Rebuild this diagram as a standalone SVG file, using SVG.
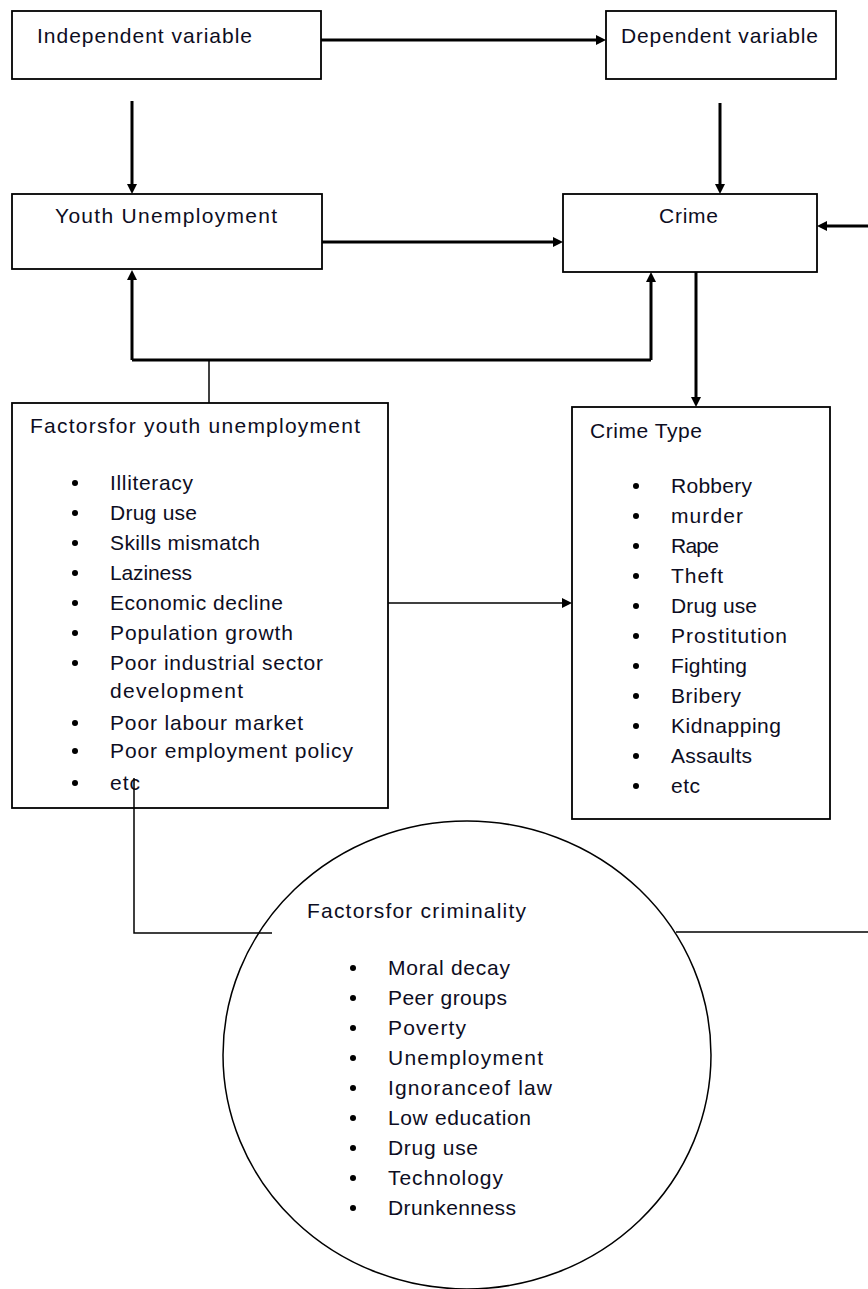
<svg xmlns="http://www.w3.org/2000/svg" width="868" height="1289" viewBox="0 0 868 1289">
<defs>
<style>
.box{fill:#fff;stroke:#000;stroke-width:1.8}
.t{font-family:"Liberation Sans",Arial,sans-serif;font-size:21px;fill:#0d0d22}
.thick{fill:none;stroke:#000;stroke-width:3}
.thin{fill:none;stroke:#000;stroke-width:1.5}
.arr{marker-end:url(#ah)}
.b{fill:#000}
</style>
<marker id="ah" viewBox="0 0 10 10" refX="2" refY="5" markerWidth="10" markerHeight="10" markerUnits="userSpaceOnUse" orient="auto"><path d="M0,0 L10,5 L0,10 z" fill="#000"/></marker>
</defs>
<rect width="868" height="1289" fill="#fff"/>

<g id="independent">
<rect class="box" x="12" y="11" width="309" height="68"/>
<text class="t" x="37" y="43" textLength="215" lengthAdjust="spacing">Independent variable</text>
</g>

<g id="dependent">
<rect class="box" x="606" y="11" width="230" height="68"/>
<text class="t" x="621" y="43" textLength="197" lengthAdjust="spacing">Dependent variable</text>
</g>

<g id="youth">
<rect class="box" x="12" y="194" width="310" height="75"/>
<text class="t" x="55" y="223" textLength="222" lengthAdjust="spacing">Youth Unemployment</text>
</g>

<g id="crime">
<rect class="box" x="563" y="194" width="254" height="78"/>
<text class="t" x="659" y="223" textLength="59" lengthAdjust="spacing">Crime</text>
</g>

<g id="factors-youth">
<rect class="box" x="12" y="403" width="376" height="405"/>
<text class="t" x="30" y="433" textLength="330" lengthAdjust="spacing">Factorsfor youth unemployment</text>
<circle class="b" cx="75" cy="483" r="3"/><text class="t" x="110" y="490" textLength="83" lengthAdjust="spacing">Illiteracy</text>
<circle class="b" cx="75" cy="513" r="3"/><text class="t" x="110" y="520" textLength="87" lengthAdjust="spacing">Drug use</text>
<circle class="b" cx="75" cy="543" r="3"/><text class="t" x="110" y="550" textLength="150" lengthAdjust="spacing">Skills mismatch</text>
<circle class="b" cx="75" cy="573" r="3"/><text class="t" x="110" y="580" textLength="82" lengthAdjust="spacing">Laziness</text>
<circle class="b" cx="75" cy="603" r="3"/><text class="t" x="110" y="610" textLength="173" lengthAdjust="spacing">Economic decline</text>
<circle class="b" cx="75" cy="633" r="3"/><text class="t" x="110" y="640" textLength="183" lengthAdjust="spacing">Population growth</text>
<circle class="b" cx="75" cy="663" r="3"/><text class="t" x="110" y="670" textLength="213" lengthAdjust="spacing">Poor industrial sector</text>
<text class="t" x="110" y="698" textLength="133" lengthAdjust="spacing">development</text>
<circle class="b" cx="75" cy="723" r="3"/><text class="t" x="110" y="730" textLength="193" lengthAdjust="spacing">Poor labour market</text>
<circle class="b" cx="75" cy="751" r="3"/><text class="t" x="110" y="758" textLength="243" lengthAdjust="spacing">Poor employment policy</text>
<circle class="b" cx="75" cy="783" r="3"/><text class="t" x="110" y="790" textLength="30" lengthAdjust="spacing">etc</text>
</g>

<g id="crime-type">
<rect class="box" x="572" y="407" width="258" height="412"/>
<text class="t" x="590" y="438" textLength="112" lengthAdjust="spacing">Crime Type</text>
<circle class="b" cx="636" cy="486" r="3"/><text class="t" x="671" y="493" textLength="81" lengthAdjust="spacing">Robbery</text>
<circle class="b" cx="636" cy="516" r="3"/><text class="t" x="671" y="523" textLength="72" lengthAdjust="spacing">murder</text>
<circle class="b" cx="636" cy="546" r="3"/><text class="t" x="671" y="553" textLength="48" lengthAdjust="spacing">Rape</text>
<circle class="b" cx="636" cy="576" r="3"/><text class="t" x="671" y="583" textLength="52" lengthAdjust="spacing">Theft</text>
<circle class="b" cx="636" cy="606" r="3"/><text class="t" x="671" y="613" textLength="86" lengthAdjust="spacing">Drug use</text>
<circle class="b" cx="636" cy="636" r="3"/><text class="t" x="671" y="643" textLength="116" lengthAdjust="spacing">Prostitution</text>
<circle class="b" cx="636" cy="666" r="3"/><text class="t" x="671" y="673" textLength="76" lengthAdjust="spacing">Fighting</text>
<circle class="b" cx="636" cy="696" r="3"/><text class="t" x="671" y="703" textLength="70" lengthAdjust="spacing">Bribery</text>
<circle class="b" cx="636" cy="726" r="3"/><text class="t" x="671" y="733" textLength="110" lengthAdjust="spacing">Kidnapping</text>
<circle class="b" cx="636" cy="756" r="3"/><text class="t" x="671" y="763" textLength="81" lengthAdjust="spacing">Assaults</text>
<circle class="b" cx="636" cy="786" r="3"/><text class="t" x="671" y="793" textLength="29" lengthAdjust="spacing">etc</text>
</g>

<g id="factors-criminality">
<ellipse class="thin" cx="467" cy="1055" rx="244" ry="234" fill="#fff"/>
<text class="t" x="307" y="918" textLength="219" lengthAdjust="spacing">Factorsfor criminality</text>
<circle class="b" cx="353" cy="968" r="3"/><text class="t" x="388" y="975" textLength="122" lengthAdjust="spacing">Moral decay</text>
<circle class="b" cx="353" cy="998" r="3"/><text class="t" x="388" y="1005" textLength="119" lengthAdjust="spacing">Peer groups</text>
<circle class="b" cx="353" cy="1028" r="3"/><text class="t" x="388" y="1035" textLength="78" lengthAdjust="spacing">Poverty</text>
<circle class="b" cx="353" cy="1058" r="3"/><text class="t" x="388" y="1065" textLength="155" lengthAdjust="spacing">Unemployment</text>
<circle class="b" cx="353" cy="1088" r="3"/><text class="t" x="388" y="1095" textLength="164" lengthAdjust="spacing">Ignoranceof law</text>
<circle class="b" cx="353" cy="1118" r="3"/><text class="t" x="388" y="1125" textLength="143" lengthAdjust="spacing">Low education</text>
<circle class="b" cx="353" cy="1148" r="3"/><text class="t" x="388" y="1155" textLength="90" lengthAdjust="spacing">Drug use</text>
<circle class="b" cx="353" cy="1178" r="3"/><text class="t" x="388" y="1185" textLength="115" lengthAdjust="spacing">Technology</text>
<circle class="b" cx="353" cy="1208" r="3"/><text class="t" x="388" y="1215" textLength="128" lengthAdjust="spacing">Drunkenness</text>
</g>

<g id="connectors">
<path class="thick arr" d="M321,40 H598"/>
<path class="thick arr" d="M132,101 V186"/>
<path class="thick arr" d="M720,103 V186"/>
<path class="thick arr" d="M322,242 H555"/>
<path class="thick arr" d="M868,226 H825"/>
<path class="thin" d="M209,403 V360"/>
<path class="thick" d="M132,360 H651"/>
<path class="thick arr" d="M132,360 V278"/>
<path class="thick arr" d="M651,360 V280"/>
<path class="thick arr" d="M696,272 V399"/>
<path class="thin arr" d="M388,603 H564"/>
<path class="thin" d="M134,778 V933 H272"/>
<path class="thin" d="M676,932 H868"/>
</g>
</svg>
